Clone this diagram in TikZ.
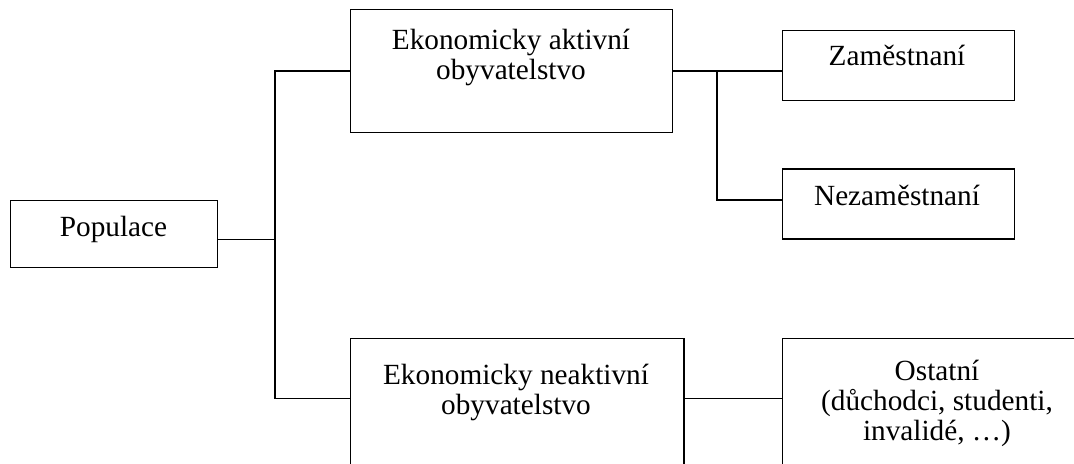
\documentclass[tikz,border=0pt]{standalone}
\usepackage{fontspec}
\setmainfont{Liberation Serif}

\begin{document}
\begin{tikzpicture}[x=0.41pt,y=-0.41pt,
  box/.style 2 args={draw=drawColor,line width=0.6pt,inner sep=0pt,anchor=north west,
    minimum width=#1*0.41pt,minimum height=#2*0.41pt},
  txt/.style={text=drawColor,anchor=base,inner sep=0pt,outer sep=0pt,
    font=\fontsize{12}{12.3}\selectfont},
  link/.style={draw=drawColor,line width=0.6pt,line join=miter}]
\definecolor{drawColor}{RGB}{0,0,0}
\path[use as bounding box] (0,0) rectangle (1074,464);
\begin{scope}
\path[clip] (0,0) rectangle (1074,464);

\node[box={207}{66.7}] (pop) at (10,200) {};
\node[box={322}{123}] (akt) at (350,9) {};
\node[box={232}{70}] (zam) at (782,30) {};
\node[box={232}{70}] (nezam) at (782,168.5) {};
\node[box={333.3}{140}] (neakt) at (350,338) {};
\node[box={310}{140}] (ost) at (782,338) {};

\node[txt] (popT) at (113.5,236.7) {Populace};
\node[txt] (aktT) at (511,49.3) {\begin{tabular}[t]{@{}c@{}}Ekonomicky aktivní\\obyvatelstvo\end{tabular}};
\node[txt] (zamT) at (897,65.7) {Zaměstnaní};
\node[txt] (nezamT) at (897,205) {Nezaměstnaní};
\node[txt] (neaktT) at (516,384) {\begin{tabular}[t]{@{}c@{}}Ekonomicky neaktivní\\obyvatelstvo\end{tabular}};
\node[txt] (ostT) at (937,380) {\begin{tabular}[t]{@{}c@{}}Ostatní\\(důchodci, studenti,\\invalidé, \dots)\end{tabular}};

\coordinate (trunk) at (275,239.3);
\coordinate (low) at (275,398.3);
\coordinate (split) at (717,200);

\path[link] (pop.east |- trunk) -- (trunk);
\path[link] (akt.west) -| (low) -- (neakt.west |- low);
\path[link] (akt.east) -- (zam.west |- akt.east);
\path[link] (split |- akt.east) -- (split) -- (nezam.west |- split);
\path[link] (neakt.east |- low) -- (ost.west |- low);
\end{scope}
\end{tikzpicture}
\end{document}
